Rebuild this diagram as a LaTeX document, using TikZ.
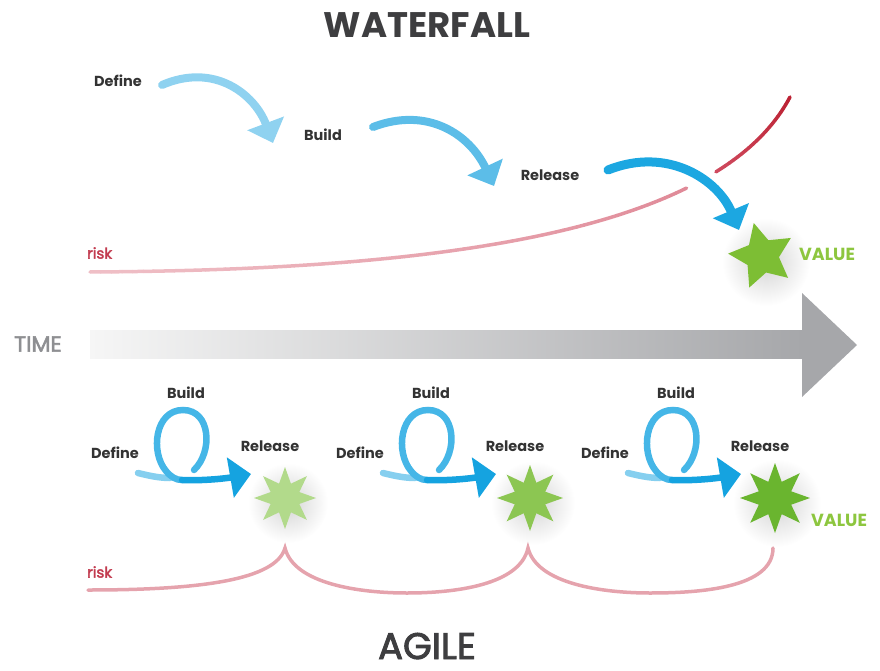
\documentclass[tikz,border=0pt]{standalone}
\usepackage{fontspec}
\setmainfont{Poppins}
\newfontfamily\medfont{Poppins}[FakeBold=2.5]
\usetikzlibrary{arrows.meta,shapes.geometric}
\definecolor{txt}{HTML}{333333}
\definecolor{ttl}{HTML}{3E3E40}
\definecolor{riskred}{HTML}{C23B4F}
\definecolor{riskpink}{HTML}{E5A3AD}
\definecolor{rA}{HTML}{EFBFC6}
\definecolor{rB}{HTML}{E08A98}
\definecolor{rC}{HTML}{CF4A5E}
\definecolor{rD}{HTML}{BC2234}
\definecolor{valgreen}{HTML}{8DC63F}
\definecolor{timegray}{HTML}{8E8F92}
\definecolor{barstart}{HTML}{F6F6F6}
\definecolor{barend}{HTML}{A6A7AA}
\definecolor{wa}{HTML}{8FD2F0}
\definecolor{wb}{HTML}{5CBDE8}
\definecolor{wc}{HTML}{1CA7E1}
\definecolor{lt}{HTML}{86CFEF}
\definecolor{lp}{HTML}{45B6E7}
\definecolor{la}{HTML}{15A3E0}
\definecolor{sa}{HTML}{B2DA8B}
\definecolor{sb}{HTML}{8CC652}
\definecolor{sc}{HTML}{6AB52F}
\definecolor{s0}{HTML}{7DBE34}
\begin{document}
\begin{tikzpicture}[x=1pt,y=-1pt,
  lbl/.style={font=\bfseries\fontsize{14.5}{16}\selectfont, text=txt, inner sep=0},
  risklbl/.style={font=\medfont\fontsize{15}{17}\selectfont, text=riskred, inner sep=0},
  vallbl/.style={font=\bfseries\fontsize{17.5}{19}\selectfont, text=valgreen, inner sep=0},
  titlelbl/.style={font=\bfseries\fontsize{35.5}{38}\selectfont, text=ttl, inner sep=0},
  agilelbl/.style={font=\medfont\fontsize{37}{40}\selectfont, text=ttl, inner sep=0, text depth=0pt},
  timelbl/.style={font=\medfont\fontsize{22}{24}\selectfont, text=timegray, inner sep=0},
  wfarrow/.style={line width=8pt, line cap=round, -{Triangle[width=38pt,length=21pt]}},
  agstroke/.style={line width=6.5pt, line cap=round},
  agarrow/.style={line width=6.5pt, line cap=round, -{Triangle[width=40pt,length=21pt]}},
  riskline/.style={line width=3.5pt, line cap=round},
  shadowblob/.style={inner color=black!17, outer color=white},
  starnode/.style={star, inner sep=0, draw=none, star point ratio=2},
]
\useasboundingbox (0,0) rectangle (880,671);

% soft shadows behind stars
\shade[shadowblob] (766,262) circle (44);
\shade[shadowblob] (288,503) circle (40);
\shade[shadowblob] (533,503) circle (42);
\shade[shadowblob] (777,503) circle (44);

% titles
\node[titlelbl, anchor=base] (wf) at (427,38) {WATERFALL};
\node[agilelbl, anchor=base] (ag) at (427,659) {AGILE};

% ---------------- waterfall ----------------
\node[lbl] (wdef) at (118,81) {Define};
\node[lbl] (wbld) at (323,135) {Build};
\node[lbl] (wrel) at (550,175) {Release};
\node[starnode, star points=5, shape border rotate=14, minimum size=68pt, fill=s0] (wstar) at (762,256) {};
\node[vallbl, anchor=west] (wval) at (799,254) {VALUE};
\node[risklbl, anchor=west] (wrisk) at (87,253) {risk};

% risk curve with gradient and gap
\foreach \i in {0,...,100}{
  \pgfmathsetmacro\tpar{\i/100}
  \path (90,272) .. controls (450,270) and (720,230) .. (790,97) coordinate[pos=\tpar] (r\i);
}
\foreach \i in {0,...,71}{
  \pgfmathtruncatemacro\j{\i+1}
  \pgfmathtruncatemacro\p{100*\i/71}
  \draw[riskline, draw=rB!\p!rA] (r\i) -- (r\j);
}
\foreach \i in {78,...,99}{
  \pgfmathtruncatemacro\j{\i+1}
  \pgfmathtruncatemacro\p{100*(\i-78)/21}
  \draw[riskline, draw=rD!\p!rC] (r\i) -- (r\j);
}

% waterfall arrows
\coordinate (w1s) at (162,85);  \coordinate (w1e) at (273,143);
\coordinate (w2s) at (373,127); \coordinate (w2e) at (494,186);
\coordinate (w3s) at (608,170); \coordinate (w3e) at (739,230);
\draw[wfarrow, draw=wa] (w1s) .. controls (215,62) and (255,95) .. (w1e);
\draw[wfarrow, draw=wb] (w2s) .. controls (428,106) and (470,135) .. (w2e);
\draw[wfarrow, draw=wc, line width=9pt] (w3s) .. controls (668,146) and (718,180) .. (w3e);

% ---------------- time arrow ----------------
\shade[left color=barstart, right color=barend] (90,330) rectangle (803,358);
\fill[barend] (802,293) -- (857,345) -- (802,397) -- cycle;
\node[timelbl] (time) at (38,344) {TIME};

% ---------------- agile ----------------
\foreach \k/\dx/\scol/\ssz in {1/0/sa/62, 2/245/sb/66, 3/490/sc/70}{
  \begin{scope}[shift={(\dx,0)}]
    \node[lbl] (adef\k) at (115,453) {Define};
    \node[lbl] (abld\k) at (186,393) {Build};
    \node[lbl] (arel\k) at (270,446) {Release};
    \node[starnode, star points=8, minimum size=\ssz pt, fill=\scol] (ast\k) at (285,498) {};
    \coordinate (ats\k) at (138,473);
    \coordinate (ate\k) at (170,478);
    \coordinate (als\k) at (194,470);
    \coordinate (ale\k) at (182,480);
    \coordinate (aae\k) at (251,474);
    \draw[agstroke, draw=lt] (ats\k) .. controls (150,476) and (160,478) .. (ate\k);
    \draw[agstroke, draw=lp] (als\k) .. controls (213,452) and (211,410) .. (183,410)
        .. controls (155,410) and (150,452) .. (166,471) .. controls (171,477) and (176,480) .. (ale\k);
    \draw[agarrow, draw=la] (ale\k) .. controls (205,481) and (228,478) .. (aae\k);
  \end{scope}
}
\node[vallbl, anchor=west] (aval) at (811,520) {VALUE};
\node[risklbl, anchor=west] (arisk) at (87,572) {risk};

% agile risk curve
\coordinate (ar0) at (88,590);
\coordinate (arc1) at (285,548);
\coordinate (arm1) at (407,593);
\coordinate (arc2) at (528,548);
\coordinate (arm2) at (650,593);
\coordinate (arend) at (773,548);
\draw[riskline, draw=riskpink] (ar0) .. controls (200,590) and (276,580) .. (arc1)
  .. controls (294,584) and (360,593) .. (arm1)
  .. controls (455,593) and (520,585) .. (arc2)
  .. controls (537,584) and (603,593) .. (arm2)
  .. controls (700,593) and (773,588) .. (arend);
\end{tikzpicture}
\end{document}
